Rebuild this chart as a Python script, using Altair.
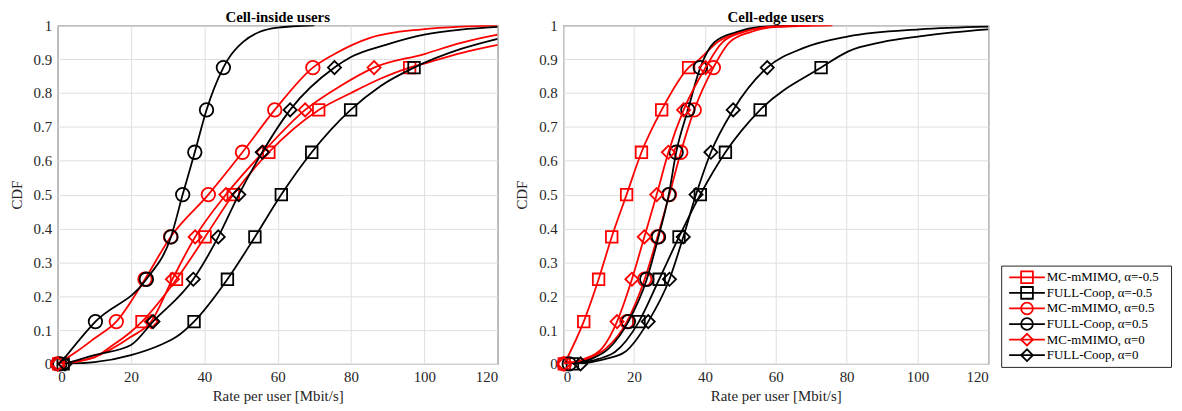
import altair as alt
import pandas as pd

# ---------------- data ----------------
MARKER_LEVELS = [0, 0.125, 0.25, 0.375, 0.5, 0.625, 0.75, 0.875]

SERIES = ["MC-mMIMO, α=-0.5", "FULL-Coop, α=-0.5",
          "MC-mMIMO, α=0.5", "FULL-Coop, α=0.5",
          "MC-mMIMO, α=0", "FULL-Coop, α=0"]
COLORS = ["#ff0000", "#000000", "#ff0000", "#000000", "#ff0000", "#000000"]
SHAPES = ["square", "square", "circle", "circle", "diamond", "diamond"]

X_TICKS = [0, 20, 40, 60, 80, 100, 120]
Y_TICKS = [0, 0.1, 0.2, 0.3, 0.4, 0.5, 0.6, 0.7, 0.8, 0.9, 1.0]

# ---- Cell-inside users ----
IN_MC_N05_X = [0.3, 5, 10, 15, 20, 23.0, 32.4, 40.2, 47.9, 57.6, 71.2, 80, 88, 96.0, 100, 110, 120]
IN_MC_N05_Y = [0, 0.008, 0.019, 0.055, 0.095, 0.125, 0.25, 0.375, 0.5, 0.625, 0.75, 0.80, 0.842, 0.875, 0.887, 0.918, 0.942]

IN_FC_N05_X = [1.5, 10, 20, 28, 32.4, 37.2, 46.3, 53.8, 61.0, 69.3, 79.9, 88, 97.2, 110, 120]
IN_FC_N05_Y = [0, 0.005, 0.026, 0.056, 0.08, 0.125, 0.25, 0.375, 0.5, 0.625, 0.75, 0.82, 0.875, 0.93, 0.960]

IN_MC_P05_X = [0.0, 5, 10, 16.0, 23.8, 30.8, 41.1, 50.4, 59.2, 69.6, 76, 85, 99.4, 110, 120]
IN_MC_P05_Y = [0, 0.035, 0.075, 0.125, 0.25, 0.375, 0.5, 0.625, 0.75, 0.875, 0.918, 0.962, 0.988, 0.996, 0.999]

IN_FC_P05_X = [0.6, 10.3, 24.2, 30.9, 34.1, 37.4, 40.6, 45.2, 46.5, 50.5, 55, 60, 70]
IN_FC_P05_Y = [0, 0.125, 0.25, 0.375, 0.5, 0.625, 0.75, 0.875, 0.9, 0.95, 0.98, 0.993, 1.0]

IN_MC_0_X = [0.0, 5, 10, 20, 25.5, 31.3, 37.5, 45.9, 56.0, 67.5, 77, 86.3, 100, 110, 120]
IN_MC_0_Y = [0, 0.006, 0.02, 0.08, 0.125, 0.25, 0.375, 0.5, 0.625, 0.75, 0.82, 0.875, 0.915, 0.948, 0.972]

IN_FC_0_X = [2.0, 10, 20, 26.0, 37.0, 43.8, 49.4, 55.8, 63.4, 75.5, 80, 89.5, 100, 110, 120]
IN_FC_0_Y = [0, 0.026, 0.056, 0.125, 0.25, 0.375, 0.5, 0.625, 0.75, 0.875, 0.906, 0.942, 0.972, 0.987, 0.995]

# ---- Cell-edge users ----
ED_MC_N05_X = [0.3, 5.8, 10.0, 13.7, 17.9, 22.1, 27.8, 35.4, 38.5, 43.5, 50, 57, 66]
ED_MC_N05_Y = [0, 0.125, 0.25, 0.375, 0.5, 0.625, 0.75, 0.875, 0.9, 0.95, 0.98, 0.995, 1.0]

ED_FC_N05_X = [2.6, 10, 14.6, 21.4, 27.1, 32.7, 38.7, 45.8, 55.6, 72.8, 80.5, 90, 100.6, 110, 120]
ED_FC_N05_Y = [0, 0.015, 0.035, 0.125, 0.25, 0.375, 0.5, 0.625, 0.75, 0.875, 0.923, 0.95, 0.967, 0.979, 0.988]

ED_MC_P05_X = [0.3, 8, 12, 18.0, 23.0, 26.6, 30.0, 33.2, 37.0, 42.4, 47, 53, 60, 76]
ED_MC_P05_Y = [0, 0.02, 0.045, 0.125, 0.25, 0.375, 0.5, 0.625, 0.75, 0.875, 0.95, 0.98, 0.995, 1.0]

ED_FC_P05_X = [1.7, 8, 12.8, 18.4, 23.6, 26.9, 29.8, 31.9, 35.2, 38.7, 42.7, 48.9, 55.5, 66]
ED_FC_P05_Y = [0, 0.015, 0.045, 0.125, 0.25, 0.375, 0.5, 0.625, 0.75, 0.875, 0.95, 0.98, 0.995, 1.0]

ED_MC_0_X = [0.2, 6, 10.9, 15.2, 19.4, 22.9, 26.4, 29.7, 34.0, 40.2, 45, 51, 58, 70]
ED_MC_0_Y = [0, 0.015, 0.045, 0.125, 0.25, 0.375, 0.5, 0.625, 0.75, 0.875, 0.95, 0.98, 0.995, 1.0]

ED_FC_0_X = [4.9, 12, 17.4, 24.0, 30.0, 33.9, 37.5, 41.7, 48.0, 57.6, 67.9, 80.5, 100.6, 120]
ED_FC_0_Y = [0, 0.015, 0.035, 0.125, 0.25, 0.375, 0.5, 0.625, 0.75, 0.875, 0.933, 0.967, 0.988, 0.996]

INSIDE = [(IN_MC_N05_X, IN_MC_N05_Y), (IN_FC_N05_X, IN_FC_N05_Y),
          (IN_MC_P05_X, IN_MC_P05_Y), (IN_FC_P05_X, IN_FC_P05_Y),
          (IN_MC_0_X, IN_MC_0_Y), (IN_FC_0_X, IN_FC_0_Y)]
EDGE = [(ED_MC_N05_X, ED_MC_N05_Y), (ED_FC_N05_X, ED_FC_N05_Y),
        (ED_MC_P05_X, ED_MC_P05_Y), (ED_FC_P05_X, ED_FC_P05_Y),
        (ED_MC_0_X, ED_MC_0_Y), (ED_FC_0_X, ED_FC_0_Y)]

FONT = "Liberation Serif"
TXT = "#262626"
MARKER_SIZE = {"square": 135, "circle": 185, "diamond": 175}


def enc_x():
    return alt.X("rate:Q", scale=alt.Scale(domain=[0, 120], nice=False),
                 axis=alt.Axis(values=X_TICKS, title="Rate per user [Mbit/s]"))


def enc_y():
    return alt.Y("cdf:Q", scale=alt.Scale(domain=[0, 1], nice=False),
                 axis=alt.Axis(values=Y_TICKS, format=".1~f", title="CDF", titlePadding=9))


def panel(curves, title, width):
    layers = []
    for (xs, ys), name, color, shape in zip(curves, SERIES, COLORS, SHAPES):
        df = pd.DataFrame({"rate": xs, "cdf": ys, "series": name})
        mk = df[df["cdf"].isin(MARKER_LEVELS)]
        line = alt.Chart(df).mark_line(color=color, strokeWidth=1.8,
                                       interpolate="monotone", clip=True).encode(
            x=enc_x(), y=enc_y(), order="cdf:Q")
        pts = alt.Chart(mk).mark_point(shape=shape, color=color, size=MARKER_SIZE[shape],
                                       strokeWidth=1.8, filled=False, opacity=1).encode(
            x=enc_x(), y=enc_y())
        layers += [line, pts]
    return alt.layer(*layers).properties(
        width=width, height=341,
        title=alt.TitleParams(title, font=FONT, fontSize=15, fontWeight="bold",
                              color="#000000", offset=-7))


left = panel(INSIDE, "Cell-inside users", 443)
right = panel(EDGE, "Cell-edge users", 428)

# ---------------- legend panel ----------------
leg_df = pd.DataFrame({"label": SERIES, "color": COLORS, "shape": SHAPES})
ly = alt.Y("label:N", sort=SERIES, axis=None, scale=alt.Scale(padding=0.5))
leg_rule = alt.Chart(leg_df).mark_rule(strokeWidth=1.8).encode(
    x=alt.value(8), x2=alt.value(44), y=ly, color=alt.Color("color:N", scale=None))
leg_pts = alt.Chart(leg_df).mark_point(size=140, strokeWidth=1.8, filled=False, opacity=1).encode(
    x=alt.value(26), y=ly, color=alt.Color("color:N", scale=None),
    shape=alt.Shape("shape:N", scale=None))
leg_txt = alt.Chart(leg_df).mark_text(align="left", baseline="middle", font=FONT,
                                      fontSize=13, color="#000000").encode(
    x=alt.value(46), y=ly, text="label:N")
legend = alt.layer(leg_rule, leg_pts, leg_txt).properties(width=171, height=102)

spacer = alt.Chart(leg_df).mark_point(opacity=0).encode(
    x=alt.value(0), y=alt.value(0)).properties(
    width=171, height=240, view=alt.ViewBackground(stroke="transparent"))

legend_col = alt.vconcat(spacer, legend, spacing=0)

plots = alt.hconcat(left, right, spacing=15)

chart = alt.hconcat(plots, legend_col, spacing=8).properties(
    padding={"left": 0, "top": 0, "right": 2, "bottom": 0}
).configure_view(stroke="#262626", strokeWidth=1).configure_axis(
    labelFont=FONT, labelFontSize=15, labelColor=TXT,
    titleFont=FONT, titleFontSize=15, titleFontWeight="normal", titleColor=TXT,
    gridColor="#dfdfdf", gridWidth=1, ticks=False, domain=False,
    labelPadding=6, titlePadding=4, labelOverlap=False
)

chart.save("out.html", embed_options={"renderer": "svg", "actions": False})
